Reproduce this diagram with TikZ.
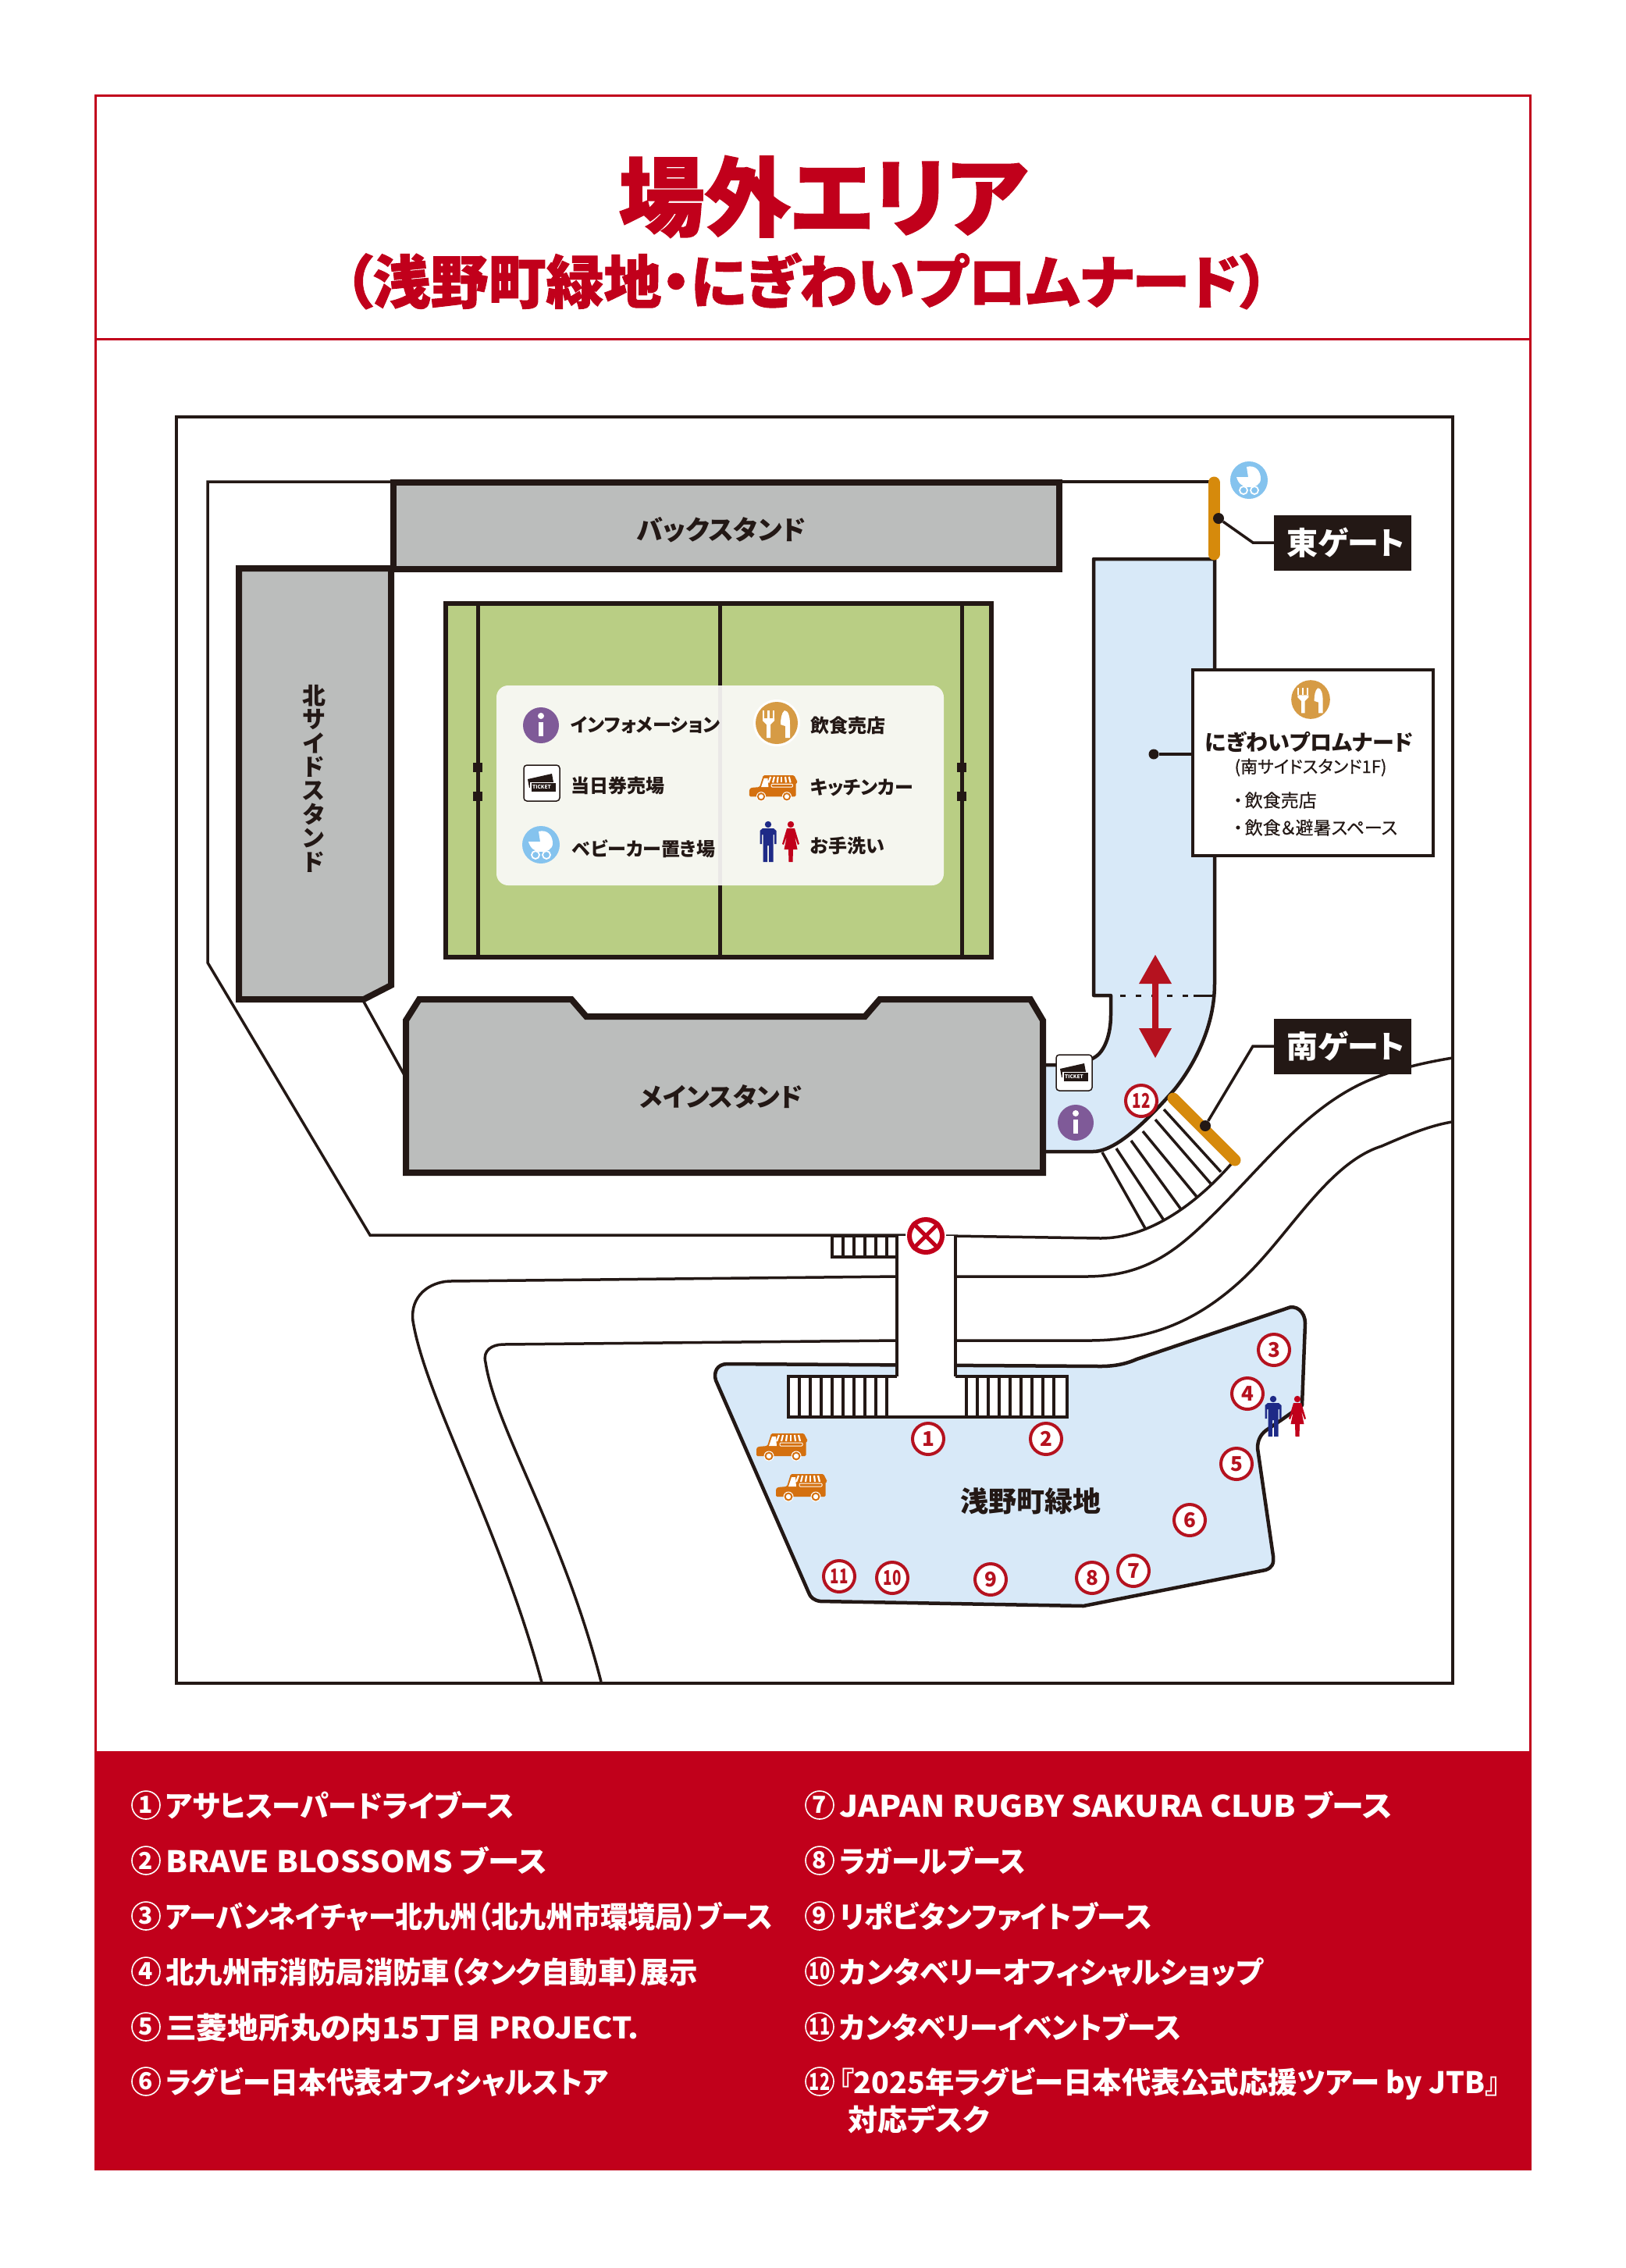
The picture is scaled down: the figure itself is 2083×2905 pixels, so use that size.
\documentclass[tikz,border=0pt]{standalone}
\usepackage{graphicx}
\usepackage{fontspec}
\setmainfont{Noto Sans CJK JP}[RawFeature=+palt]
\definecolor{mapred}{HTML}{C1001B}
\definecolor{markred}{HTML}{B5121F}
\definecolor{inkblack}{HTML}{231815}
\definecolor{standgrey}{HTML}{BBBDBC}
\definecolor{pitchgreen}{HTML}{B9CE84}
\definecolor{paleblue}{HTML}{D8E9F8}
\definecolor{panelcream}{HTML}{FBFAF9}
\definecolor{gateorange}{HTML}{D68A0C}
\definecolor{foodorange}{HTML}{D69B45}
\definecolor{carorange}{HTML}{D4700F}
\definecolor{infopurple}{HTML}{7F5A98}
\definecolor{prambule}{HTML}{85C3EE}
\definecolor{manblue}{HTML}{1E2A87}
\newcommand{\fs}[1]{\fontsize{#1}{#1}\selectfont}
\newcommand{\slim}[1]{\scalebox{.72}[1]{#1}}
\tikzset{x=1pt,y=-1pt}
\tikzset{thinline/.style={draw=inkblack,line width=3.5pt}}
\tikzset{standline/.style={draw=inkblack,fill=standgrey,line width=8pt}}
\tikzset{blueline/.style={draw=inkblack,fill=paleblue,line width=4.5pt,line join=round}}
\tikzset{gatebar/.style={draw=gateorange,line width=15pt,line cap=round}}
\tikzset{standlabel/.style={text=inkblack,font=\fs{33}\bfseries,inner sep=0pt}}
\tikzset{keylabel/.style={text=inkblack,font=\fs{24}\bfseries,anchor=west,inner sep=0pt}}
\tikzset{gatebox/.style={fill=inkblack,text=white,font=\fs{40}\bfseries,minimum width=176pt,minimum height=71pt,inner sep=0pt}}
\tikzset{gatedot/.style={circle,fill=inkblack,minimum size=14pt,inner sep=0pt}}
\tikzset{boothmark/.style={circle,draw=markred,fill=white,line width=4pt,minimum size=40pt,inner sep=0pt,text=markred,font=\fs{26}\bfseries}}
\tikzset{legendmark/.style={circle,draw=white,line width=1.6pt,minimum size=36pt,inner sep=0pt,text=white,font=\fs{30}\bfseries}}
\tikzset{legendtext/.style={text=white,font=\fs{38}\bfseries,anchor=base west,inner sep=0pt}}
\tikzset{infoicon/.pic={
  \fill[infopurple] (0,0) circle[radius=23];
  \fill[white] (0,-12) circle[radius=4];
  \fill[white] (-3,-4) rectangle (3,14);
}}
\tikzset{pramicon/.pic={
  \fill[prambule] (0,0) circle[radius=24];
  \fill[white] (-16,-4) -- (-1,-4) -- (-3,-17) .. controls (8,-20) and (15,-12) .. (15,-2) .. controls (15,6) and (8,9) .. (0,9) .. controls (-8,9) and (-14,4) .. (-16,-4) -- cycle;
  \draw[white,line width=1.8pt] (-7,13) circle[radius=5];
  \draw[white,line width=1.8pt] (7,13) circle[radius=5];
}}
\tikzset{foodicon/.pic={
  \fill[white] (0,0) circle[radius=30];
  \fill[foodorange] (0,0) circle[radius=27];
  \fill[white] (-18,-16) rectangle (-16,-6);
  \fill[white] (-12,-16) rectangle (-9.5,-6);
  \fill[white] (-5.5,-16) rectangle (-3,-6);
  \fill[white] (-18,-6) -- (-3,-6) -- (-3,-3) -- (-8,2) -- (-8,19) -- (-13,19) -- (-13,2) -- (-18,-3) -- cycle;
  \fill[white] (10,-16) .. controls (15,-16) and (17,-8) .. (17,2) -- (17,19) -- (11,19) -- (11,4) -- (5,2) .. controls (5,-5) and (6,-13) .. (10,-16) -- cycle;
}}
\tikzset{ticketicon/.pic={
  \draw[inkblack,fill=white,line width=1.5pt,rounded corners=4pt] (-23,-23) rectangle (23,23);
  \fill[inkblack] (-18,-5) -- (13,-12) -- (15,-1) -- (-16,6) -- cycle;
  \fill[white] (-15,-1.5) rectangle (19,11.5);
  \fill[inkblack] (-13,0) rectangle (18,11);
  \node[text=white,font=\fs{6.5}\bfseries,inner sep=0pt] (ticketword) at (0,5.5) {TICKET};
}}
\tikzset{caricon/.pic={
  \fill[carorange,rounded corners=1.5pt] (-33,12) -- (-33,2) -- (-31,0) -- (-19,-1) -- (-14,-17) -- (28,-17) -- (33,-7) -- (30.5,-7) -- (30.5,12) -- cycle;
  \fill[white] (-13,-13) -- (-8,-13) -- (-7,-1) -- (-17,-1) -- cycle;
  \foreach \ta/\ba in {-4/-7,1/-1,6/5,11/11,16/17,21/23}
    \draw[white,line width=2.2pt] (\ta,-15) -- (\ba,-7);
  \draw[white,line width=1pt,rounded corners=1pt] (-3,-5) rectangle (26,-1);
  \foreach \wx in {-17,18} {
    \fill[white] (\wx,12) circle[radius=6.5];
    \fill[carorange] (\wx,12) circle[radius=5.5];
    \fill[white] (\wx,12) circle[radius=3.2];
  }
}}
\tikzset{manicon/.pic={
  \fill[manblue] (0,-22) circle[radius=4.2];
  \fill[manblue] (-7,-17) -- (7,-17) -- (10.5,-14) -- (10.5,3) -- (8,3) -- (8,-9) -- (6.5,-9) -- (6.5,26) -- (1,26) -- (1,5) -- (-1,5) -- (-1,26) -- (-6.5,26) -- (-6.5,-9) -- (-8,-9) -- (-8,3) -- (-10.5,3) -- (-10.5,-14) -- cycle;
}}
\tikzset{womanicon/.pic={
  \fill[mapred] (0,-22) circle[radius=4.2];
  \fill[mapred] (-5,-17) -- (5,-17) -- (11,3) -- (9,4) -- (5,-7) -- (8.5,10) -- (3,10) -- (2.5,26) -- (-2.5,26) -- (-3,10) -- (-8.5,10) -- (-5,-7) -- (-9,4) -- (-11,3) -- cycle;
}}
\begin{document}
\begin{tikzpicture}
\useasboundingbox (0,0) rectangle (2083,2905);
\fill[white] (0,0) rectangle (2083,2905);
% frame and heading
\draw[mapred,line width=3pt] (122,122) rectangle (1960,2778);
\draw[mapred,line width=3pt] (122,434) -- (1960,434);
\fill[mapred] (121,2243) rectangle (1961,2778);
\node[text=mapred,font=\fs{110}\bfseries\addfontfeature{FakeBold=1.6},inner sep=0pt] (maintitle) at (1054,252) {場外エリア};
\node[text=mapred,font=\fs{74}\bfseries\addfontfeature{FakeBold=1.3},inner sep=0pt] (subtitle) at (1033,360) {（浅野町緑地・にぎわいプロムナード）};
\draw[thinline] (226,534) rectangle (1861,2156);
% site outline and roads
\draw[thinline] (504,617) -- (266,617) -- (266,1233) -- (474,1582) -- (1160,1582);
\draw[thinline] (1212,1583) -- (1410,1586) .. controls (1470,1586) and (1530,1545) .. (1578,1490);
\draw[thinline] (1359,617) -- (1549,617);
\draw[thinline] (694,2155) .. controls (640,1955) and (545,1790) .. (529,1692) .. controls (525,1660) and (550,1642) .. (576,1641) -- (1149,1635);
\draw[thinline] (1225,1635) -- (1391,1635) .. controls (1470,1635) and (1510,1600) .. (1560,1550) .. controls (1620,1490) and (1670,1425) .. (1740,1390) .. controls (1780,1370) and (1830,1360) .. (1861,1355);
\draw[thinline] (770,2154) .. controls (720,1960) and (635,1830) .. (622,1745) .. controls (618,1730) and (630,1722) .. (645,1722) -- (1149,1717);
\draw[thinline] (1225,1717) -- (1395,1717) .. controls (1470,1717) and (1530,1695) .. (1590,1640) .. controls (1650,1585) and (1700,1490) .. (1770,1468) .. controls (1800,1455) and (1830,1442) .. (1860,1437);
% promenade
\draw[blueline] (1401,716) -- (1556,716) -- (1556,1260) .. controls (1556,1320) and (1525,1370) .. (1505,1395) .. controls (1470,1435) and (1430,1475) .. (1400,1475) -- (1336,1475) -- (1336,1364) -- (1385,1364) -- (1401,1355) .. controls (1415,1348) and (1423,1325) .. (1423,1300) -- (1423,1275) -- (1401,1275) -- cycle;
\draw[inkblack,line width=3pt,dash pattern=on 7pt off 13pt] (1435,1275) -- (1529,1275);
\draw[inkblack,line width=3pt] (1529,1275) -- (1556,1275);
\fill[markred] (1480,1223) -- (1501,1260) -- (1484,1260) -- (1484,1317) -- (1501,1317) -- (1480,1355) -- (1459,1317) -- (1476,1317) -- (1476,1260) -- (1459,1260) -- cycle;
\foreach \ax/\ay/\bx/\by in {1412/1476/1468/1575,1430/1471/1491/1563,1449/1461/1513/1549,1464/1449/1534/1534,1480/1434/1551/1516,1491/1421/1564/1501}
  \draw[thinline] (\ax,\ay) -- (\bx,\by);
% stands and pitch
\draw[standline] (504,618) rectangle (1357,729);
\draw[standline] (306,728) -- (501,728) -- (501,1262) -- (466,1280) -- (306,1280) -- cycle;
\draw[thinline] (466,1283) -- (518,1377);
\draw[standline] (520,1307) -- (537,1280) -- (732,1280) -- (751,1302) -- (1108,1302) -- (1127,1280) -- (1320,1280) -- (1336,1307) -- (1336,1502) -- (520,1502) -- cycle;
\node[standlabel,font=\fs{34}\bfseries] (backstand) at (924,679) {バックスタンド};
\node[standlabel] (mainstand) at (924,1405) {メインスタンド};
\node[standlabel,font=\fontsize{30}{30.4}\selectfont\bfseries,align=center] (northstand) at (402,997) {北\\サ\\イ\\ド\\ス\\タ\\ン\\ド};
\draw[inkblack,fill=pitchgreen,line width=6pt] (571,773) rectangle (1270,1226);
\foreach \lx in {612,922,1232} \draw[inkblack,line width=5pt] (\lx,773) -- (\lx,1226);
\foreach \lx in {612,1232} \foreach \ly in {983,1020} \fill[inkblack] (\lx-6,\ly-6) rectangle (\lx+6,\ly+6);
\fill[panelcream,fill opacity=.92,rounded corners=15pt] (636,878) rectangle (1209,1134);
\pic at (693,929) {infoicon};
\pic at (694,1003) {ticketicon};
\pic at (693,1082) {pramicon};
\pic at (995,926) {foodicon};
\pic[scale=.94] at (991,1009) {caricon};
\pic at (984,1078) {manicon};
\pic at (1013,1078) {womanicon};
\node[keylabel] (keyinfo) at (731,929) {インフォメーション};
\node[keylabel] (keyticket) at (731,1006) {当日券売場};
\node[keylabel] (keypram) at (733,1087) {ベビーカー置き場};
\node[keylabel] (keyfood) at (1038,929) {飲食売店};
\node[keylabel] (keycar) at (1038,1009) {キッチンカー};
\node[keylabel] (keywash) at (1038,1083) {お手洗い};
% gates
\draw[gatebar] (1555,618) -- (1555,710);
\draw[gatebar] (1503,1407) -- (1582,1486);
\pic at (1600,615) {pramicon};
\node[gatedot] (eastdot) at (1561,664) {};
\coordinate (eastbend) at (1605,695);
\node[gatebox] (eastbox) at (1720,695) {\hspace{8pt}東ゲート};
\draw[inkblack,line width=3.5pt] (eastdot) -- (eastbend) -- (eastbox.west);
\node[gatedot] (southdot) at (1544,1442) {};
\coordinate (southbend) at (1605,1340);
\node[gatebox] (southbox) at (1720,1340) {\hspace{8pt}南ゲート};
\draw[inkblack,line width=3.5pt] (southdot) -- (southbend) -- (southbox.west);
% promenade note
\node[gatedot,minimum size=13pt] (notedot) at (1478,966) {};
\node[draw=inkblack,fill=white,line width=3.5pt,minimum width=308pt,minimum height=238pt,inner sep=0pt] (notebox) at (1682,977) {};
\draw[inkblack,line width=3.5pt] (notedot) -- (notebox.west |- notedot);
\pic[scale=.92] at (1679,896) {foodicon};
\node[text=inkblack,font=\fs{28}\bfseries,inner sep=0pt] (notetitle) at (1677,950) {にぎわいプロムナード};
\node[text=inkblack,font=\fs{22}\addfontfeature{FakeBold=.5},inner sep=0pt] (notesub) at (1679,983) {(南サイドスタンド1F)};
\node[text=inkblack,font=\fs{23}\addfontfeature{FakeBold=.3},anchor=west,inner sep=0pt] (noteone) at (1580,1025) {・\hspace{3pt}飲食売店};
\node[text=inkblack,font=\fs{23}\addfontfeature{FakeBold=.3},anchor=west,inner sep=0pt] (notetwo) at (1580,1060) {・\hspace{3pt}飲食＆避暑スペース};
\pic at (1376,1374) {ticketicon};
\pic at (1378,1438) {infoicon};
% park
\draw[blueline] (932,1747) -- (1410,1750) .. controls (1430,1750) and (1445,1746) .. (1456,1741) -- (1648,1676) .. controls (1660,1670) and (1672,1680) .. (1672,1695) -- (1668,1800) -- (1644,1817) -- (1622,1832) .. controls (1614,1838) and (1611,1846) .. (1611,1855) -- (1631,1993) .. controls (1632,2003) and (1630,2008) .. (1621,2011) -- (1388,2057) -- (1051,2051) .. controls (1043,2050) and (1038,2046) .. (1036,2040) -- (917,1768) .. controls (914,1758) and (918,1747) .. (932,1747) -- cycle;
\fill[white] (1149,1583) rectangle (1224,1763);
\fill[white] (1010,1763) rectangle (1367,1815);
\foreach \sx in {1024,1038,...,1136} \draw[inkblack,line width=4pt] (\sx,1763) -- (\sx,1815);
\foreach \sx in {1238,1252,...,1352} \draw[inkblack,line width=4pt] (\sx,1763) -- (\sx,1815);
\draw[inkblack,line width=4.5pt] (1149,1763) -- (1010,1763) -- (1010,1815) -- (1367,1815) -- (1367,1763) -- (1224,1763);
\draw[thinline] (1149,1763) -- (1149,1583);
\draw[thinline] (1224,1763) -- (1224,1583);
\draw[thinline] (1066,1583) rectangle (1149,1610);
\foreach \sx in {1080,1094,...,1136} \draw[inkblack,line width=3.5pt] (\sx,1583) -- (\sx,1610);
\node[circle,draw=mapred,fill=white,line width=6pt,minimum size=42pt,inner sep=0pt] (noentry) at (1186,1583) {};
\draw[mapred,line width=5pt] (noentry.north west) -- (noentry.south east);
\draw[mapred,line width=5pt] (noentry.north east) -- (noentry.south west);
\node[text=inkblack,font=\fs{36}\bfseries,inner sep=0pt] (parkname) at (1320,1923) {浅野町緑地};
\pic at (1002,1853) {caricon};
\pic at (1027,1905) {caricon};
\pic at (1631,1814) {manicon};
\pic at (1662,1814) {womanicon};
\foreach \n/\xx/\yy in {1/1189/1843,2/1340/1843,3/1632/1729,4/1598/1785,5/1584/1875,6/1524/1947,7/1452/2012,8/1399/2021,9/1269/2023}
  \node[boothmark] (booth\n) at (\xx,\yy) {\n};
\foreach \n/\xx/\yy in {10/1143/2021,11/1075/2019,12/1462/1410}
  \node[boothmark] (booth\n) at (\xx,\yy) {\slim{\n}};
% legend
\foreach \n/\yy/\sc/\txt in {1/2312/.972/アサヒスーパードライブース,2/2383/1.06/BRAVE BLOSSOMS ブース,3/2454/.923/アーバンネイチャー北九州（北九州市環境局）ブース,4/2525/.958/北九州市消防局消防車（タンク自動車）展示,5/2596/1.045/三菱地所丸の内15丁目 PROJECT.,6/2666/.944/ラグビー日本代表オフィシャルストア}{
  \node[legendmark] (left\n) at (187,\yy) {\n};
  \node[legendtext] (lefttext\n) at (left\n.center) [xshift=25pt,yshift=-15pt] {\scalebox{\sc}[1]{\txt}};
}
\foreach \n/\yy/\sc/\txt in {7/2312/1.08/JAPAN RUGBY SAKURA CLUB ブース,8/2383/.955/ラガールブース,9/2454/.98/リポビタンファイトブース}{
  \node[legendmark] (right\n) at (1050,\yy) {\n};
  \node[legendtext] (righttext\n) at (right\n.center) [xshift=25pt,yshift=-15pt] {\scalebox{\sc}[1]{\txt}};
}
\foreach \n/\yy/\sc/\txt in {10/2525/.99/カンタベリーオフィシャルショップ,11/2596/.963/カンタベリーイベントブース,12/2666/.985/『2025年ラグビー日本代表公式応援ツアー by JTB』}{
  \node[legendmark] (right\n) at (1050,\yy) {\slim{\n}};
  \node[legendtext] (righttext\n) at (right\n.center) [xshift=25pt,yshift=-15pt] {\scalebox{\sc}[1]{\txt}};
}
\node[legendtext] (righttext13) at (1086,2729) {対応デスク};
\end{tikzpicture}
\end{document}
